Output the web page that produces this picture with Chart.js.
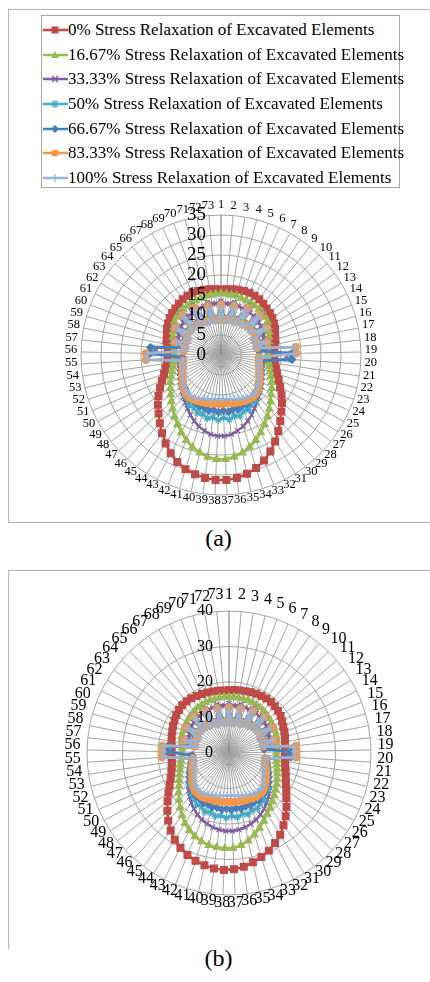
<!DOCTYPE html>
<html>
<head>
<meta charset="utf-8">
<script src="https://cdn.jsdelivr.net/npm/chart.js@4/dist/chart.umd.min.js"></script>
<style>
  body { margin: 0; background: #fff; }
  #page { position: relative; width: 430px; height: 982px; overflow: hidden; font-family: "Liberation Serif", "Times New Roman", serif; }
  .frame { position: absolute; border: 0 solid #b4b4b4; }
  #legend { position: absolute; left: 41px; top: 15px; width: 359px; height: 173px; box-sizing: border-box;
            border: 1px solid #a6a6a6; padding-top: 1.6px; background: #fff; z-index: 2; }
  #legend .row { height: 24.7px; display: flex; align-items: center; font-size: 17px; white-space: nowrap; }
  #legend svg { margin-left: 1px; flex: none; }
  canvas { position: absolute; z-index: 1; }
  .caption { position: absolute; left: 0; width: 437px; text-align: center; font-size: 24px; line-height: 24px; }
</style>
</head>
<body>
<div id="page">
  <div class="frame" style="left:8px;top:9px;width:520px;height:512px;border-width:1px 0 1px 1px"></div>
  <div id="legend"></div>
  <canvas id="chartA" width="360" height="360" style="left:41px;top:175px"></canvas>
  <div class="caption" style="top:526px">(a)</div>
  <div class="frame" style="left:8px;top:570px;width:520px;height:378px;border-width:1px 0 0 1px"></div>
  <canvas id="chartB" width="364" height="364" style="left:47px;top:571px"></canvas>
  <div class="caption" style="top:946px">(b)</div>
</div>
<script>
// element numbers around the opening, 1..73
const labels = Array.from({ length: 73 }, (_, i) => String(i + 1));

const seriesNames = [
  '0% Stress Relaxation of Excavated Elements',
  '16.67% Stress Relaxation of Excavated Elements',
  '33.33% Stress Relaxation of Excavated Elements',
  '50% Stress Relaxation of Excavated Elements',
  '66.67% Stress Relaxation of Excavated Elements',
  '83.33% Stress Relaxation of Excavated Elements',
  '100% Stress Relaxation of Excavated Elements'
];

// panel (a)
const aRelax0 = [16.4, 16.5, 16.7, 16.9, 17.0, 17.1, 17.0, 16.9, 16.6, 16.3,
  16.1, 15.8, 15.4, 15.0, 14.5, 14.1, 13.7, 13.4, 13.3, 13.3,
  13.6, 14.1, 14.8, 15.7, 16.8, 18.1, 19.4, 20.7, 22.2, 23.8,
  25.5, 27.1, 28.5, 29.6, 30.4, 31.0, 31.3, 31.3, 31.0, 30.5,
  29.9, 28.9, 27.6, 26.1, 24.5, 22.9, 21.4, 20.1, 18.7, 17.3,
  16.1, 15.0, 14.3, 13.7, 13.4, 13.3, 13.4, 13.7, 14.1, 14.5,
  15.0, 15.4, 15.8, 16.1, 16.3, 16.6, 16.9, 17.0, 17.1, 17.0,
  16.9, 16.7, 16.5];
const aRelax17 = [15.4, 15.3, 15.2, 15.3, 15.1, 15.0, 15.1, 14.9, 14.9, 14.8,
  14.6, 14.3, 13.8, 13.3, 12.8, 12.4, 12.1, 11.8, 11.7, 11.7,
  12.0, 12.4, 12.9, 13.6, 14.4, 15.2, 16.0, 17.0, 18.1, 19.3,
  20.5, 21.8, 23.0, 24.1, 25.0, 25.7, 26.1, 26.1, 25.7, 25.0,
  24.1, 23.0, 21.8, 20.5, 19.3, 18.1, 17.0, 16.0, 15.2, 14.4,
  13.6, 12.9, 12.4, 12.0, 11.7, 11.7, 11.8, 12.1, 12.4, 12.8,
  13.3, 13.8, 14.3, 14.6, 14.8, 14.9, 14.9, 15.1, 15.0, 15.1,
  15.3, 15.2, 15.3];
const aRelax33 = [13.5, 12.9, 13.0, 13.6, 12.9, 12.9, 13.5, 12.8, 12.7, 13.4,
  12.5, 12.2, 12.6, 11.8, 11.4, 11.7, 10.8, 10.6, 16.5, 16.5,
  10.4, 10.6, 10.9, 11.3, 11.7, 12.2, 12.8, 13.4, 14.1, 14.9,
  15.8, 16.8, 17.8, 18.7, 19.4, 20.0, 20.3, 20.3, 20.0, 19.4,
  18.7, 17.8, 16.8, 15.8, 14.9, 14.1, 13.4, 12.8, 12.2, 11.7,
  11.3, 10.9, 10.6, 10.4, 10.3, 16.5, 16.5, 10.8, 11.7, 11.4,
  11.8, 12.6, 12.2, 12.5, 13.4, 12.7, 12.8, 13.5, 12.9, 12.9,
  13.6, 13.0, 12.9];
const aRelax50 = [12.8, 9.3, 9.5, 13.0, 9.5, 9.8, 13.8, 9.9, 10.2, 14.3,
  10.3, 10.3, 13.6, 9.9, 9.8, 12.3, 9.7, 9.6, 17.3, 17.3,
  9.9, 10.1, 10.4, 10.8, 11.2, 11.7, 12.0, 13.2, 13.2, 14.4,
  14.3, 15.4, 15.1, 16.0, 15.6, 16.3, 15.7, 16.3, 15.7, 16.2,
  15.4, 15.7, 14.8, 14.9, 13.8, 13.8, 12.6, 12.6, 11.7, 11.2,
  10.8, 10.4, 10.1, 9.9, 9.8, 17.3, 17.3, 9.7, 12.3, 9.8,
  9.9, 13.6, 10.3, 10.3, 14.3, 10.2, 9.9, 13.8, 9.8, 9.5,
  13.0, 9.5, 9.3];
const aRelax67 = [12.8, 9.1, 9.3, 13.0, 9.3, 9.6, 13.8, 9.7, 10.0, 14.3,
  10.1, 10.1, 13.6, 9.7, 9.6, 12.3, 9.5, 9.5, 17.8, 17.8,
  9.7, 9.9, 10.2, 10.6, 11.0, 11.5, 11.8, 12.6, 12.7, 13.5,
  13.4, 14.0, 13.7, 14.2, 13.9, 14.3, 13.9, 14.3, 13.9, 14.2,
  13.8, 14.0, 13.6, 13.5, 13.1, 12.8, 12.3, 12.0, 11.5, 11.0,
  10.6, 10.2, 9.9, 9.7, 9.6, 17.8, 17.8, 9.5, 12.3, 9.6,
  9.7, 13.6, 10.1, 10.1, 14.3, 10.0, 9.7, 13.8, 9.6, 9.3,
  13.0, 9.3, 9.1];
const aRelax83 = [12.5, 8.8, 9.0, 12.7, 9.0, 9.3, 13.5, 9.4, 9.7, 14.0,
  9.8, 9.8, 13.3, 9.4, 9.3, 12.0, 9.2, 18.8, 18.8, 9.5,
  9.6, 9.8, 10.1, 10.5, 11.0, 11.5, 12.1, 12.7, 13.1, 13.2,
  13.1, 12.9, 12.7, 12.5, 12.3, 12.2, 12.2, 12.2, 12.2, 12.3,
  12.5, 12.7, 12.9, 13.1, 13.2, 13.1, 12.7, 12.1, 11.5, 11.0,
  10.5, 10.1, 9.8, 9.6, 18.8, 18.8, 9.4, 9.2, 12.0, 9.3,
  9.4, 13.3, 9.8, 9.8, 14.0, 9.7, 9.4, 13.5, 9.3, 9.0,
  12.7, 9.0, 8.8];
const aRelax100 = [12.0, 8.4, 8.6, 12.2, 8.6, 8.9, 13.0, 9.0, 9.3, 13.5,
  9.4, 9.4, 12.8, 9.0, 8.9, 11.5, 8.8, 18.6, 18.6, 9.4,
  9.5, 9.7, 10.0, 10.4, 10.8, 11.3, 11.9, 12.4, 12.7, 12.7,
  12.5, 12.2, 11.8, 11.5, 11.3, 11.1, 11.0, 11.0, 11.1, 11.3,
  11.5, 11.8, 12.2, 12.5, 12.7, 12.7, 12.4, 11.9, 11.3, 10.8,
  10.4, 10.0, 9.7, 9.5, 18.6, 18.6, 9.0, 8.8, 11.5, 8.9,
  9.0, 12.8, 9.4, 9.4, 13.5, 9.3, 9.0, 13.0, 8.9, 8.6,
  12.2, 8.6, 8.4];

// panel (b)
const bRelax0 = [17.7, 17.8, 17.9, 18.0, 18.2, 18.4, 18.5, 18.6, 18.6, 18.4,
  18.2, 17.9, 17.4, 17.0, 16.7, 16.4, 16.1, 15.9, 15.8, 15.8,
  16.0, 16.3, 16.8, 17.4, 18.2, 19.3, 20.6, 22.2, 23.9, 25.5,
  27.2, 28.5, 29.7, 30.7, 31.5, 32.3, 32.8, 33.0, 32.8, 32.4,
  31.8, 31.0, 30.0, 28.8, 27.3, 25.6, 23.8, 22.0, 20.4, 19.0,
  17.9, 17.1, 16.6, 16.3, 16.2, 16.2, 16.3, 16.5, 16.8, 17.1,
  17.5, 17.9, 18.3, 18.6, 18.8, 18.8, 18.7, 18.5, 18.3, 18.1,
  17.9, 17.8, 17.7];
const bRelax17 = [15.8, 15.8, 15.8, 15.8, 15.8, 15.7, 15.6, 15.5, 15.3, 15.1,
  14.9, 14.7, 14.5, 14.3, 14.1, 13.9, 13.7, 13.5, 13.4, 13.4,
  13.6, 13.9, 14.3, 14.8, 15.4, 16.1, 16.7, 17.5, 18.3, 19.3,
  20.3, 21.5, 22.8, 24.1, 25.3, 26.2, 26.8, 26.9, 26.8, 26.6,
  26.1, 25.4, 24.5, 23.4, 22.0, 20.7, 19.3, 18.1, 16.9, 16.0,
  15.2, 14.6, 14.1, 13.7, 13.4, 13.2, 13.3, 13.5, 13.8, 14.1,
  14.3, 14.5, 14.7, 14.9, 15.1, 15.3, 15.5, 15.6, 15.7, 15.8,
  15.8, 15.8, 15.8];
const bRelax33 = [14.0, 13.4, 13.5, 14.1, 13.5, 13.6, 14.2, 13.5, 13.4, 14.0,
  13.2, 12.9, 13.3, 12.4, 12.0, 12.3, 11.4, 11.0, 16.5, 16.5,
  10.8, 11.1, 11.6, 12.2, 12.9, 13.7, 14.6, 15.6, 16.6, 17.6,
  18.6, 19.5, 20.3, 20.9, 21.4, 21.8, 22.0, 22.0, 21.8, 21.4,
  20.9, 20.3, 19.5, 18.6, 17.6, 16.6, 15.6, 14.6, 13.7, 12.9,
  12.2, 11.6, 11.1, 10.8, 10.7, 16.5, 16.5, 11.4, 12.3, 12.0,
  12.4, 13.3, 12.9, 13.2, 14.0, 13.4, 13.5, 14.2, 13.6, 13.5,
  14.1, 13.5, 13.4];
const bRelax50 = [13.1, 9.1, 9.3, 13.3, 9.4, 9.7, 13.9, 10.0, 10.4, 14.4,
  10.6, 10.7, 14.2, 10.5, 10.4, 13.4, 10.3, 10.1, 17.2, 17.2,
  10.6, 10.9, 11.3, 11.9, 12.5, 13.2, 13.7, 15.1, 15.3, 16.6,
  16.6, 17.6, 17.3, 18.1, 17.6, 18.3, 17.7, 18.3, 17.7, 18.2,
  17.5, 17.9, 17.0, 17.2, 16.0, 15.9, 14.5, 14.3, 13.2, 12.5,
  11.9, 11.3, 10.9, 10.6, 10.5, 17.2, 17.2, 10.3, 13.4, 10.4,
  10.5, 14.2, 10.7, 10.6, 14.4, 10.4, 10.0, 13.9, 9.7, 9.4,
  13.3, 9.3, 9.1];
const bRelax67 = [13.2, 8.9, 9.1, 13.4, 9.2, 9.5, 14.0, 9.8, 10.2, 14.5,
  10.4, 10.5, 14.3, 10.3, 10.2, 13.5, 10.1, 9.9, 17.5, 17.5,
  10.5, 10.8, 11.2, 11.7, 12.3, 12.9, 13.6, 14.0, 14.9, 15.0,
  15.6, 15.5, 15.9, 15.7, 16.0, 15.7, 16.0, 15.7, 16.0, 15.7,
  16.0, 15.6, 15.8, 15.3, 15.3, 14.6, 14.3, 13.3, 12.9, 12.3,
  11.7, 11.2, 10.8, 10.5, 10.4, 17.5, 17.5, 10.1, 13.5, 10.2,
  10.3, 14.3, 10.5, 10.4, 14.5, 10.2, 9.8, 14.0, 9.5, 9.2,
  13.4, 9.1, 8.9];
const bRelax83 = [12.8, 8.6, 8.8, 13.0, 8.9, 9.2, 13.7, 9.5, 9.9, 14.3,
  10.1, 10.2, 14.1, 10.0, 9.9, 13.3, 9.8, 18.9, 18.9, 18.9,
  10.3, 10.5, 10.8, 11.3, 11.8, 12.4, 13.1, 13.8, 14.3, 14.5,
  14.5, 14.3, 14.1, 14.0, 13.9, 13.8, 13.8, 13.8, 13.8, 13.9,
  14.0, 14.1, 14.3, 14.5, 14.5, 14.3, 13.8, 13.1, 12.4, 11.8,
  11.3, 10.8, 10.5, 10.3, 18.9, 18.9, 18.9, 9.8, 13.3, 9.9,
  10.0, 14.1, 10.2, 10.1, 14.3, 9.9, 9.5, 13.7, 9.2, 8.9,
  13.0, 8.8, 8.6];
const bRelax100 = [12.3, 8.2, 8.4, 12.5, 8.5, 8.8, 13.2, 9.1, 9.5, 13.8,
  9.7, 9.8, 13.6, 9.6, 9.5, 12.8, 9.4, 18.6, 18.6, 18.6,
  10.1, 10.2, 10.5, 10.9, 11.3, 11.8, 12.5, 13.1, 13.5, 13.6,
  13.4, 13.1, 12.8, 12.5, 12.3, 12.1, 12.0, 12.0, 12.1, 12.3,
  12.5, 12.8, 13.1, 13.4, 13.6, 13.5, 13.1, 12.5, 11.8, 11.3,
  10.9, 10.5, 10.2, 10.1, 18.7, 18.7, 18.7, 9.4, 12.8, 9.5,
  9.6, 13.6, 9.8, 9.7, 13.8, 9.5, 9.1, 13.2, 8.8, 8.5,
  12.5, 8.4, 8.2];

const seriesColors = ['#BE4B48', '#98B954', '#7D60A0', '#46AAC5', '#4A7EBB', '#F79646', '#95B3D7'];
const markerStyles = ['rect', 'triangle', 'crossRot', 'star', 'rectRot', 'circle', 'cross'];
const markerSizes = [4.8, 4.2, 3.6, 3.8, 3.6, 3.6, 4];

const serif = '"Liberation Serif", "Times New Roman", serif';

// value labels left of the vertical axis, element numbers round the rim
const rimLabels = {
  id: 'rimLabels',
  afterDatasetsDraw(chart, args, o) {
    const r = chart.scales.r;
    const ctx = chart.ctx;
    ctx.save();
    ctx.fillStyle = '#000';
    ctx.textBaseline = 'middle';
    ctx.font = o.tickFont + 'px ' + serif;
    ctx.textAlign = 'right';
    r.ticks.forEach(t => {
      const p = r.getPointPositionForValue(0, t.value);
      ctx.fillText(t.label, p.x - o.tickGap, p.y);
    });
    ctx.font = o.labelFont + 'px ' + serif;
    ctx.textAlign = 'center';
    const h = o.labelFont * 0.68;
    chart.data.labels.forEach((lab, i) => {
      const a = r.getIndexAngle(i);
      const p = r.getPointPosition(i, r.drawingArea + o.pad);
      const w = ctx.measureText(lab).width;
      ctx.fillText(lab, p.x + Math.sin(a) * w / 2, p.y - Math.cos(a) * h / 2 + o.shift);
    });
    ctx.restore();
  }
};

function makeRadar(id, series, max, step, text) {
  return new Chart(document.getElementById(id), {
    type: 'radar',
    data: {
      labels: labels,
      datasets: series.map((values, k) => ({
        label: seriesNames[k],
        data: values,
        borderColor: seriesColors[k],
        backgroundColor: seriesColors[k],
        pointBackgroundColor: seriesColors[k],
        pointBorderColor: seriesColors[k],
        pointStyle: markerStyles[k],
        pointRadius: markerSizes[k],
        pointBorderWidth: 1.2,
        borderWidth: 2.5,
        fill: false,
        order: series.length - k
      }))
    },
    options: {
      responsive: false,
      animation: false,
      layout: { padding: 40 },
      elements: { line: { tension: 0 } },
      plugins: {
        legend: { display: false },
        tooltip: { enabled: false },
        rimLabels: text
      },
      scales: {
        r: {
          min: 0,
          max: max,
          beginAtZero: true,
          ticks: { display: false, stepSize: step },
          pointLabels: { display: false },
          grid: { circular: true, color: '#a3a3a3', lineWidth: 1 },
          angleLines: { color: c => c.index === 0 ? '#7a7a7a' : '#a3a3a3', lineWidth: 1 }
        }
      }
    },
    plugins: [rimLabels]
  });
}

makeRadar('chartA', [aRelax0, aRelax17, aRelax33, aRelax50, aRelax67, aRelax83, aRelax100], 35, 5,
  { tickFont: 19, tickGap: 15, labelFont: 12.5, pad: 3.8, shift: -1.8 });
makeRadar('chartB', [bRelax0, bRelax17, bRelax33, bRelax50, bRelax67, bRelax83, bRelax100], 40, 10,
  { tickFont: 16, tickGap: 16, labelFont: 16, pad: 6.5, shift: -4.5 });

// legend for panel (a): line with the series marker, then the name
function markerSvg(style, color) {
  const c = 12, m = 6;
  let shape = '';
  if (style === 'rect') {
    shape = `<rect x="${c - 3.5}" y="${m - 3.5}" width="7" height="7" fill="${color}"/>`;
  } else if (style === 'triangle') {
    shape = `<polygon points="${c},${m - 4} ${c + 4},${m + 3} ${c - 4},${m + 3}" fill="${color}"/>`;
  } else if (style === 'crossRot') {
    shape = `<path d="M${c - 3} ${m - 3}L${c + 3} ${m + 3}M${c + 3} ${m - 3}L${c - 3} ${m + 3}" stroke="${color}" stroke-width="1.5"/>`;
  } else if (style === 'star') {
    shape = `<path d="M${c - 3} ${m - 3}L${c + 3} ${m + 3}M${c + 3} ${m - 3}L${c - 3} ${m + 3}M${c} ${m - 4}L${c} ${m + 4}" stroke="${color}" stroke-width="1.3"/>`;
  } else if (style === 'rectRot') {
    shape = `<polygon points="${c},${m - 4} ${c + 4},${m} ${c},${m + 4} ${c - 4},${m}" fill="${color}"/>`;
  } else if (style === 'circle') {
    shape = `<circle cx="${c}" cy="${m}" r="3.6" fill="${color}"/>`;
  } else if (style === 'cross') {
    shape = `<path d="M${c - 4} ${m}L${c + 4} ${m}M${c} ${m - 4}L${c} ${m + 4}" stroke="${color}" stroke-width="1.3"/>`;
  }
  return `<svg width="25" height="12"><line x1="0" y1="${m}" x2="25" y2="${m}" stroke="${color}" stroke-width="2.5"/>${shape}</svg>`;
}

const legend = document.getElementById('legend');
seriesNames.forEach((name, k) => {
  const row = document.createElement('div');
  row.className = 'row';
  row.innerHTML = markerSvg(markerStyles[k], seriesColors[k]) + '<span>' + name + '</span>';
  legend.appendChild(row);
});
</script>
</body>
</html>
